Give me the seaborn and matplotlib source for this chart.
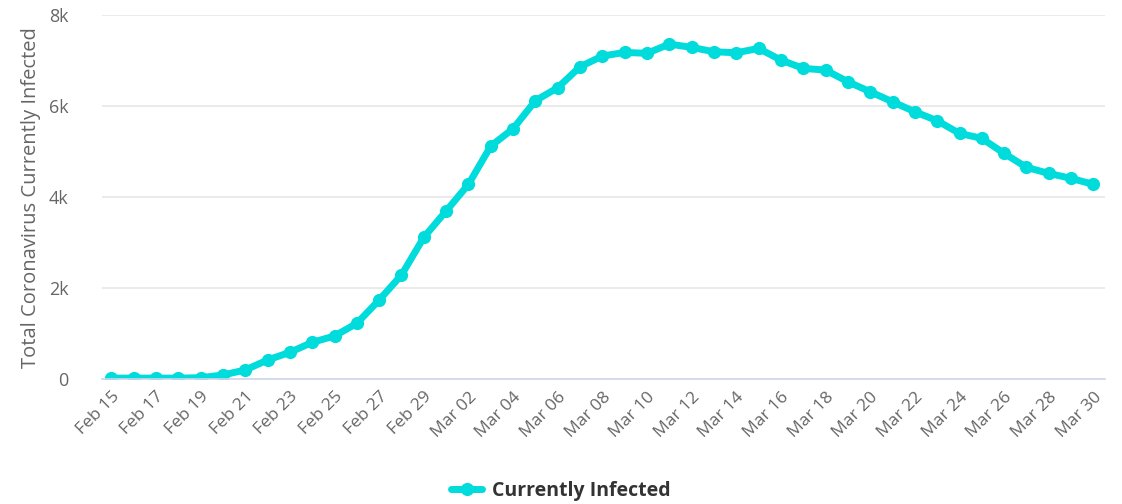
import pandas as pd
import matplotlib.pyplot as plt
import matplotlib.dates as mdates
import seaborn as sns

sns.set_style('white')
plt.rcParams['font.family'] = ['Open Sans', 'DejaVu Sans']

# data
dates = pd.date_range('2020-02-15', '2020-03-30', freq='D')
infected = [
    19, 20, 20, 19, 29, 88, 198, 418, 586, 806,
    945, 1224, 1736, 2286, 3114,
    3693, 4279, 5121, 5502, 6118, 6404, 6865, 7100, 7180, 7160,
    7363, 7290, 7195, 7172, 7268, 7012, 6829, 6792, 6535, 6315,
    6095, 5875, 5678, 5400, 5290, 4960, 4653, 4520, 4411, 4279,
]
series_name = 'Currently Infected'
y_ticks = [0, 2000, 4000, 6000, 8000]
y_tick_labels = ['0', '2k', '4k', '6k', '8k']

df = pd.DataFrame({'date': dates, 'value': infected, 'series': series_name})

line_color = '#00dbdb'
text_color = '#666666'

fig = plt.figure(figsize=(11.22, 5.04), dpi=100)
ax = fig.add_axes([0.0909, 0.248, 0.894, 0.722])

sns.lineplot(data=df, x='date', y='value', hue='series', palette=[line_color],
             marker='o', markersize=9.5, markeredgewidth=0, linewidth=5, ax=ax, legend=True)

ax.set_ylim(0, 8000)
ax.set_yticks(y_ticks)
ax.set_yticklabels(y_tick_labels)
ax.set_xlim(dates[0] - pd.Timedelta(hours=10), dates[-1] + pd.Timedelta(hours=12.5))
ax.set_xticks(dates[::2])
ax.xaxis.set_major_formatter(mdates.DateFormatter('%b %d'))

ax.grid(axis='y', color='#e6e6e6', linewidth=1.2)
ax.set_axisbelow(True)
for side in ['top', 'right', 'left']:
    ax.spines[side].set_visible(False)
ax.spines['bottom'].set_color('#ccd6eb')
ax.spines['bottom'].set_linewidth(1.2)

ax.tick_params(axis='y', length=0, labelsize=13, labelcolor=text_color, pad=24)
ax.tick_params(axis='x', length=0, labelsize=12.5, labelcolor=text_color, pad=7)
for lbl in ax.get_xticklabels():
    lbl.set_rotation(45)
    lbl.set_ha('right')
    lbl.set_rotation_mode('anchor')

ax.set_xlabel('')
ax.set_ylabel('Total Coronavirus Currently Infected', fontsize=14.5, color=text_color, labelpad=6)

ax.get_legend().remove()
handles, labels = ax.get_legend_handles_labels()
leg = fig.legend(handles, labels, loc='center', bbox_to_anchor=(0.5, 0.026), frameon=False,
                 handlelength=1.6, handletextpad=0.5,
                 prop=dict(family='Open Sans', weight='bold', size=14))
for t in leg.get_texts():
    t.set_color('#333333')

plt.savefig('out.png', dpi=100)
plt.close('all')
